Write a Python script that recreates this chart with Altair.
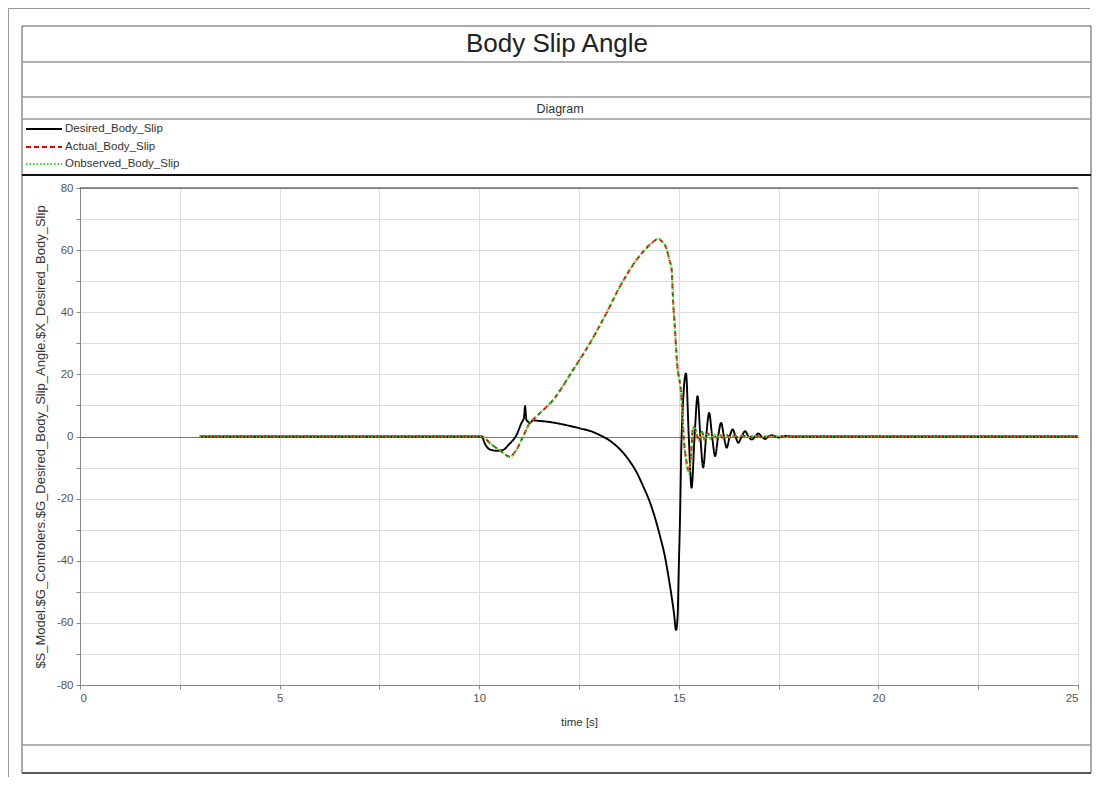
import altair as alt
import pandas as pd

FONT = "Liberation Sans, Arial, sans-serif"

NAMES = ["Desired_Body_Slip", "Actual_Body_Slip", "Onbserved_Body_Slip"]
COLORS = ["#000000", "#e00000", "#22e022"]
DASHES = [[1, 0], [5, 3], [1.5, 2]]

desired_t = [3, 10, 10.06, 10.15, 10.27, 10.45, 10.6, 10.75, 10.94, 11.06, 11.12, 11.15,
             11.18, 11.22, 11.27, 11.35, 11.44, 11.8, 12.27, 12.53, 12.8, 13.03, 13.3,
             13.53, 13.75, 13.95, 14.1, 14.28, 14.4, 14.53, 14.65, 14.74, 14.82, 14.88,
             14.93, 14.97, 15.0, 15.03, 15.07, 15.18, 15.25, 15.32, 15.395, 15.47, 15.54,
             15.61, 15.685, 15.76, 15.835, 15.91, 15.985, 16.06, 16.13, 16.2, 16.275,
             16.35, 16.42, 16.49, 16.575, 16.66, 16.745, 16.83, 16.91, 16.99, 17.075,
             17.16, 17.245, 17.33, 17.42, 17.5, 17.6, 17.7, 17.8, 18.5, 25]
desired_v = [0, 0, 0, -2.5, -4.2, -4.6, -4.3, -2.5, 0.6, 4.4, 6, 9.8,
             5.5, 4.8, 4.4, 5.2, 5.1, 4.6, 3.4, 2.6, 1.7, 0.4, -1.6,
             -4.2, -7.6, -11.7, -15.8, -21.3, -26, -32.1, -38.5, -45, -51.5, -57,
             -62.3, -58, -42, -26.7, 0, 20.3, 0, -16.5, 0, 13, 0,
             -10, 0, 7.6, 0, -6.3, 0, 4.4, 0, -3.6, 0,
             2.3, 0, -2.0, 0, 1.7, 0, -1.0, 0, 1.0, 0,
             -0.8, 0, 0.4, 0, -0.3, 0, 0.2, 0, 0, 0]

actual_t = [3, 10, 10.06, 10.3, 10.55, 10.77, 10.92, 11.1, 11.25, 11.44, 11.86, 12.36,
            12.78, 13.19, 13.53, 13.95, 14.28, 14.49, 14.6, 14.7, 14.76, 14.82, 14.86,
            14.9, 14.95, 15.07, 15.12, 15.18, 15.25, 15.3, 15.36, 15.43, 15.5, 15.58,
            15.65, 15.73, 15.8, 15.88, 15.95, 16.03, 16.1, 16.2, 16.3, 16.4, 16.5, 16.6,
            16.75, 16.9, 17.1, 17.3, 25]
actual_v = [0, 0, 0, -2.5, -4.8, -6.5, -4.5, 0, 4, 6.5, 11.9, 21.6,
            30.2, 39.8, 48.4, 57, 61.8, 63.6, 62.5, 60.2, 57, 53.8, 43,
            35.5, 24.8, 11.9, 0, -7, -11, -7, 3, 2, -1.5, 1.5,
            -1.2, 1.0, -0.8, 0.7, -0.6, 0.5, -0.4, 0.4, -0.3, 0.3, -0.3, 0.3,
            -0.2, 0.2, -0.1, 0, 0]

observed_t = [3, 10, 10.06, 10.3, 10.55, 10.77, 10.92, 11.1, 11.25, 11.44, 11.86, 12.36,
              12.78, 13.19, 13.53, 13.95, 14.28, 14.49, 14.6, 14.7, 14.76, 14.82, 14.86,
              14.9, 14.95, 15.07, 15.12, 15.18, 15.26, 15.31, 15.37, 15.43, 15.5, 15.58,
              15.65, 15.73, 15.8, 15.88, 15.95, 16.03, 16.1, 16.2, 16.3, 16.4, 16.5, 16.6,
              16.75, 16.9, 17.1, 17.3, 25]
observed_v = [0, 0, 0, -2.5, -4.8, -6.5, -4.5, 0, 4, 6.5, 11.9, 21.6,
              30.2, 39.8, 48.4, 57, 61.8, 63.6, 62.5, 60.2, 57, 53.8, 43,
              35.5, 24.8, 11.9, 0, -8, -12, -7, 3, 2, -1.5, 1.5,
              -1.2, 1.0, -0.8, 0.7, -0.6, 0.5, -0.4, 0.4, -0.3, 0.3, -0.3, 0.3,
              -0.2, 0.2, -0.1, 0, 0]

X_TICKS = [0, 2.5, 5, 7.5, 10, 12.5, 15, 17.5, 20, 22.5, 25]
Y_TICKS = [-80, -70, -60, -50, -40, -30, -20, -10, 0, 10, 20, 30, 40, 50, 60, 70, 80]

frames = []
for name, ts, vs in [(NAMES[0], desired_t, desired_v),
                     (NAMES[1], actual_t, actual_v),
                     (NAMES[2], observed_t, observed_v)]:
    frames.append(pd.DataFrame({"t": ts, "v": vs, "series": name}))
df = pd.concat(frames, ignore_index=True)

one = pd.DataFrame({"k": [0]})


def hrule(x1, x2, y, color="#666", w=1, dash=None):
    kw = {} if dash is None else {"strokeDash": dash}
    return alt.Chart(one).mark_rule(color=color, strokeWidth=w, **kw).encode(
        x=alt.value(x1), x2=alt.value(x2), y=alt.value(y))


def vrule(x, y1, y2, color="#666", w=1):
    return alt.Chart(one).mark_rule(color=color, strokeWidth=w).encode(
        x=alt.value(x), y=alt.value(y1), y2=alt.value(y2))


def label(text, x, y, size, color="#222", align="center"):
    return alt.Chart(one).mark_text(text=text, font=FONT, fontSize=size, color=color,
                                    align=align, baseline="middle").encode(
        x=alt.value(x), y=alt.value(y))


color = alt.Color("series:N", scale=alt.Scale(domain=NAMES, range=COLORS), legend=None)
dash = alt.StrokeDash("series:N", scale=alt.Scale(domain=NAMES, range=DASHES), legend=None)

x_enc = alt.X("t:Q", scale=alt.Scale(domain=[0, 25], nice=False),
              axis=alt.Axis(values=X_TICKS,
                            labelExpr="datum.value % 5 == 0 ? toString(datum.value) : ''",
                            title="time [s]", grid=True, gridColor="#dcdcdc",
                            domainColor="#888", tickColor="#888", tickSize=4,
                            labelColor="#555", labelFont=FONT, labelFontSize=11.5,
                            titleFont=FONT, titleFontSize=11.5, titleFontWeight="normal",
                            titleColor="#333", titleX=499, titleY=31, labelPadding=3))
y_enc = alt.Y("v:Q", scale=alt.Scale(domain=[-80, 80], nice=False),
              axis=alt.Axis(values=Y_TICKS,
                            labelExpr="datum.value % 20 == 0 ? toString(datum.value) : ''",
                            title="$S_Model.$G_Controlers.$G_Desired_Body_Slip_Angle.$X_Desired_Body_Slip",
                            grid=True,
                            gridColor={"condition": {"test": "datum.value == 0", "value": "#777"},
                                       "value": "#dcdcdc"},
                            domainColor="#888", tickColor="#888", tickSize=4,
                            labelColor="#555", labelFont=FONT, labelFontSize=11.5,
                            titleFont=FONT, titleFontSize=13, titleFontWeight="normal",
                            titleColor="#333", titleX=-40, titleY=248.5,
                            titleAlign="center", titleBaseline="middle", titleAngle=-90,
                            labelPadding=3))

lines = []
for name, w in zip(NAMES, [1.9, 2, 2]):
    lines.append(alt.Chart(df).transform_filter(alt.datum.series == name)
                 .mark_line(strokeWidth=w, interpolate="monotone")
                 .encode(x=x_enc, y=y_enc, color=color, strokeDash=dash, order="t:Q"))

legend_rows = [-59, -41, -24]
legend_layers = []
for name, c, d, yy in zip(NAMES, COLORS, DASHES, legend_rows):
    legend_layers.append(hrule(-54, -18, yy, c, 2, d))
    legend_layers.append(label(name, -15, yy, 11.5, "#333", "left"))

decor = [
    hrule(-72, 1010, -179.5, "#999", 1),
    vrule(-71.5, -180, 589, "#999", 1),
    hrule(-58, 1011, -162, "#555", 1),
    hrule(-58, 1011, 585, "#222", 1.5),
    vrule(-58, -162, 585, "#555", 1),
    vrule(1011, -162, 585, "#555", 1),
    hrule(-58, 1011, -126, "#999", 1.5),
    hrule(-58, 1011, -91, "#999", 1.5),
    hrule(-58, 1011, -69, "#999", 1.5),
    hrule(-58, 1011, -13, "#111", 2),
    hrule(-58, 1011, 557, "#999", 1.5),
    hrule(0, 998, 0, "#222", 1.2),
    label("Body Slip Angle", 477, -144, 26),
    label("Diagram", 480, -79, 12.5, "#333"),
]

chart = alt.layer(*decor, *legend_layers, *lines).properties(
    width=998, height=497,
    padding={"left": 72, "top": 180, "right": 14, "bottom": 92},
    autosize=alt.AutoSizeParams(type="none"),
).configure_view(stroke="#999", strokeWidth=1)

chart.save("out.html", embed_options={"renderer": "svg", "actions": False})
